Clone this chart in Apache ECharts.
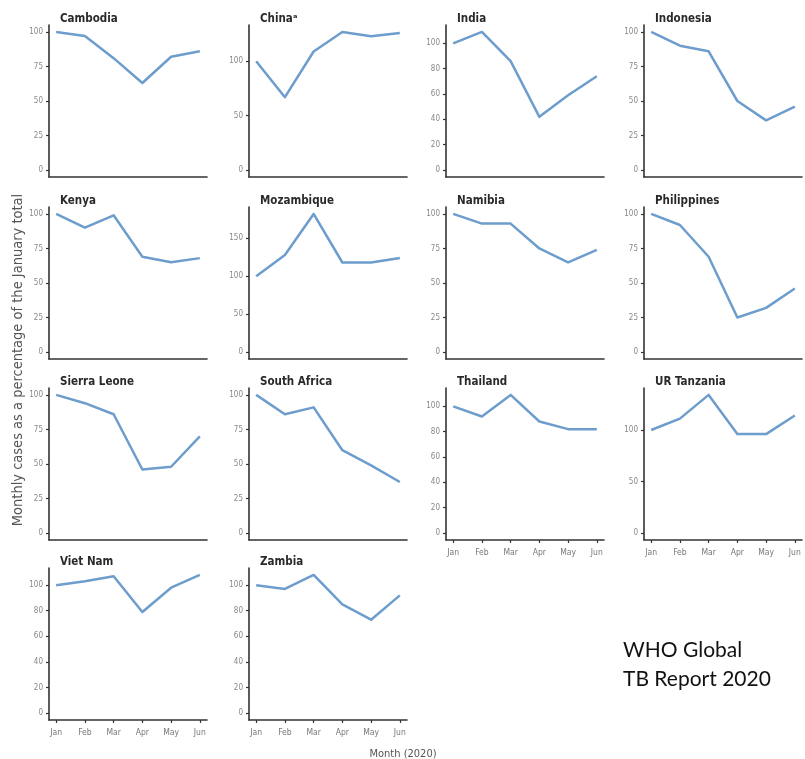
<!DOCTYPE html>
<html lang="en">
<head>
<meta charset="UTF-8" />
<title>TB monthly notifications 2020</title>
<script src="https://cdn.jsdelivr.net/npm/echarts@6/dist/echarts.min.js"></script>
<style>
html,body{margin:0;padding:0;background:#fff}
#main{width:805px;height:759px}
</style>
</head>
<body>
<div id="main"></div>
<script type="text/javascript">
// months on the x axis
var months = ['Jan', 'Feb', 'Mar', 'Apr', 'May', 'Jun'];
var monthIdx = [0, 1, 2, 3, 4, 5];

// panel titles, in reading order
var countries = ['Cambodia', 'China\u1d43', 'India', 'Indonesia',
  'Kenya', 'Mozambique', 'Namibia', 'Philippines',
  'Sierra Leone', 'South Africa', 'Thailand', 'UR Tanzania',
  'Viet Nam', 'Zambia'];

// monthly cases as % of January
var cambodia    = [100, 97, 81, 63, 82, 86];
var china       = [100, 67, 109, 127, 123, 126];
var india       = [100, 109, 86, 42, 59, 74];
var indonesia   = [100, 90, 86, 50, 36, 46];
var kenya       = [100, 90, 99, 69, 65, 68];
var mozambique  = [100, 128, 182, 118, 118, 124];
var namibia     = [100, 93, 93, 75, 65, 74];
var philippines = [100, 92, 69, 25, 32, 46];
var sierraLeone = [100, 94, 86, 46, 48, 70];
var southAfrica = [100, 86, 91, 60, 49, 37];
var thailand    = [100, 92, 109, 88, 82, 82];
var tanzania    = [100, 111, 134, 96, 96, 114];
var vietNam     = [100, 103, 107, 79, 98, 108];
var zambia      = [100, 97, 108, 85, 73, 92];

// y tick labels
var ticks25  = [0, 25, 50, 75, 100];
var ticks20  = [0, 20, 40, 60, 80, 100];
var ticks50  = [0, 50, 100];
var ticks150 = [0, 50, 100, 150];

var panelData = [cambodia, china, india, indonesia, kenya, mozambique, namibia,
  philippines, sierraLeone, southAfrica, thailand, tanzania, vietNam, zambia];
var panelTicks = [ticks25, ticks50, ticks20, ticks25, ticks25, ticks150, ticks25,
  ticks25, ticks25, ticks25, ticks20, ticks50, ticks20, ticks20];
// panels that carry month labels (bottom of each column)
var withMonths = [10, 11, 12, 13];

var colLeft = [49, 249, 446, 644];
var rowTop = [25, 207, 388, 568];
var panelW = 158, panelH = 152;
var lineColor = '#6c9dcc';
var narrow = '"Liberation Sans Narrow", "DejaVu Sans Condensed", sans-serif';

var grids = [], xAxes = [], yAxes = [], series = [], titles = [];
panelData.forEach(function (vals, i) {
  var col = i % 4, row = Math.floor(i / 4);
  var gx = colLeft[col], gy = rowTop[row];
  var hasMonths = withMonths.indexOf(i) >= 0;
  var pts = monthIdx.map(function (m, k) { return [m, vals[k]]; });
  var dmax = Math.max.apply(null, vals);

  grids.push({left: gx, top: gy, width: panelW, height: panelH});
  titles.push({
    text: countries[i], left: gx + 6, top: gy - 17,
    textStyle: {fontFamily: narrow, fontWeight: 'bold', fontSize: 11.5, color: '#2a2a2a'}
  });
  xAxes.push({
    type: 'value', gridIndex: i, min: -0.25, max: 5.25,
    axisLine: {show: true, onZero: false, lineStyle: {color: '#333', width: 1.6}},
    axisTick: {show: hasMonths, length: 3, lineStyle: {color: '#333', width: 1.2}, customValues: monthIdx},
    axisLabel: {
      show: hasMonths, customValues: monthIdx, margin: 8,
      fontFamily: narrow, fontSize: 8.5, color: '#777',
      formatter: function (v) { return months[Math.round(v)]; }
    },
    splitLine: {show: false}
  });
  yAxes.push({
    type: 'value', gridIndex: i, min: -0.05 * dmax, max: 1.05 * dmax,
    axisLine: {show: true, onZero: false, lineStyle: {color: '#333', width: 1.6}},
    axisTick: {show: true, length: 3, lineStyle: {color: '#333', width: 1.2}, customValues: panelTicks[i]},
    axisLabel: {
      customValues: panelTicks[i], margin: 6,
      fontFamily: narrow, fontSize: 8, color: '#888'
    },
    splitLine: {show: false}
  });
  series.push({
    type: 'line', xAxisIndex: i, yAxisIndex: i, data: pts,
    showSymbol: false, symbol: 'none',
    lineStyle: {color: lineColor, width: 2.5, join: 'round'}
  });
});

titles.push({
  text: 'Month (2020)', left: 398, top: 744, textAlign: 'center',
  textStyle: {fontFamily: narrow, fontWeight: 'normal', fontSize: 11, color: '#555'}
});
titles.push({
  text: 'WHO Global\nTB Report 2020', left: 618, top: 631,
  textStyle: {fontFamily: 'Lato, "Open Sans", sans-serif', fontWeight: 'normal', fontSize: 21, color: '#111', lineHeight: 29}
});

var myChart = echarts.init(document.getElementById('main'));
myChart.setOption({
  animation: false,
  backgroundColor: '#fff',
  title: titles,
  grid: grids,
  xAxis: xAxes,
  yAxis: yAxes,
  series: series,
  graphic: [{
    type: 'text', x: 18, y: 360, rotation: Math.PI / 2,
    style: {
      text: 'Monthly cases as a percentage of the January total',
      font: '14.5px ' + narrow, fill: '#555',
      textAlign: 'center', textVerticalAlign: 'middle'
    }
  }]
});
</script>
</body>
</html>
